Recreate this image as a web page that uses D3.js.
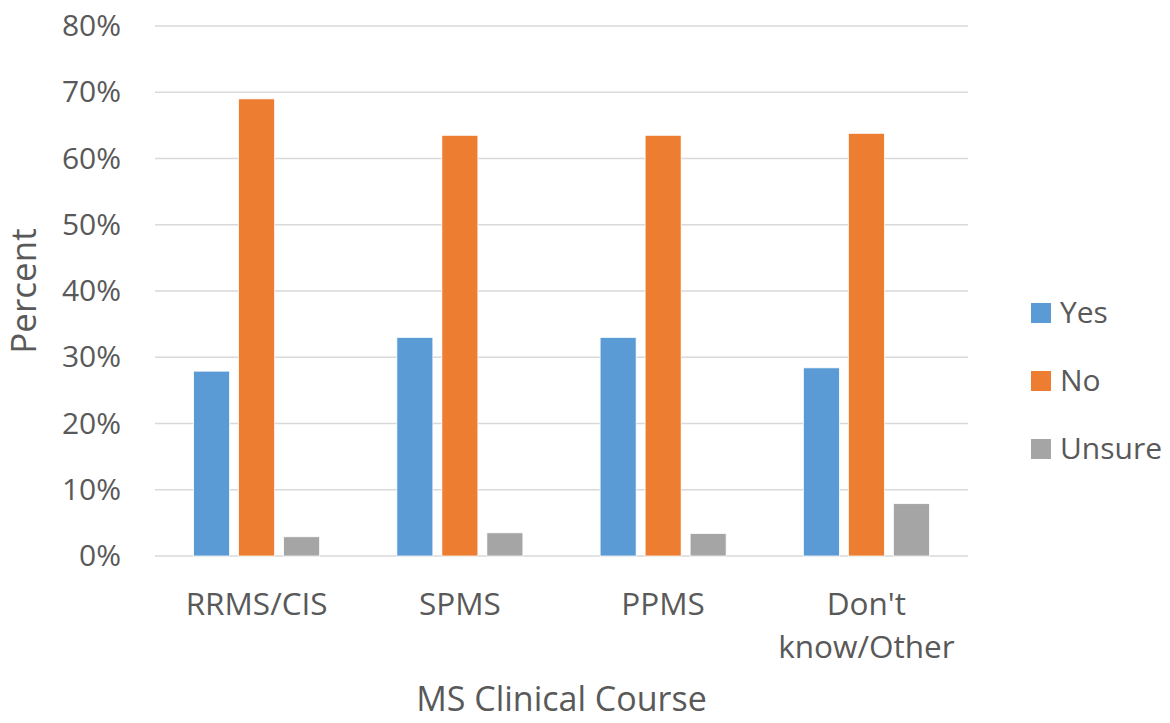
<!DOCTYPE html>
<html>
<head>
<meta charset="utf-8">
<script src="https://cdn.jsdelivr.net/npm/d3@7"></script>
<style>
  html, body { margin: 0; padding: 0; background: #fff; }
  #chart { width: 1170px; height: 723px; }
  text { font-family: "Open Sans", "Noto Sans", sans-serif; fill: #595959; }
</style>
</head>
<body>
<div id="chart"></div>
<script>
// Chart data
const categories = ['RRMS/CIS', 'SPMS', 'PPMS', "Don't\nknow/Other"];
const seriesNames = ['Yes', 'No', 'Unsure'];
const yesValues = [27.9, 33.0, 33.0, 28.4];
const noValues = [69.0, 63.5, 63.5, 63.8];
const unsureValues = [2.9, 3.5, 3.4, 7.9];
const yTicks = [0, 10, 20, 30, 40, 50, 60, 70, 80];
const colors = ['#5B9BD5', '#ED7D31', '#A5A5A5'];

const seriesValues = [yesValues, noValues, unsureValues];

const container = document.getElementById('chart');
const margin = { top: 26, right: 202, bottom: 167, left: 155 };
const width = container.clientWidth - margin.left - margin.right;
const height = container.clientHeight - margin.top - margin.bottom;

const svg = d3.select(container)
    .append('svg')
    .attr('width', container.clientWidth)
    .attr('height', container.clientHeight)
    .append('g')
    .attr('transform', `translate(${margin.left},${margin.top})`);

// Scales
const x0 = d3.scaleBand()
    .domain(categories)
    .range([0, width])
    .paddingInner(0.38)
    .paddingOuter(0.19);

const x1 = d3.scaleBand()
    .domain(seriesNames)
    .range([0, x0.bandwidth()])
    .paddingInner(0.2);

const y = d3.scaleLinear()
    .domain([0, 80])
    .range([height, 0]);

// Grid lines
svg.append('g')
    .attr('class', 'grid-lines')
    .selectAll('line')
    .data(yTicks)
    .enter()
    .append('line')
    .attr('x1', 0)
    .attr('x2', width)
    .attr('y1', d => y(d))
    .attr('y2', d => y(d))
    .attr('stroke', '#D9D9D9')
    .attr('stroke-width', 1.5);

// Y axis labels
const yAxis = svg.append('g')
    .call(d3.axisLeft(y)
        .tickValues(yTicks)
        .tickSize(0)
        .tickPadding(34)
        .tickFormat(d => d + '%'));
yAxis.select('.domain').remove();
yAxis.selectAll('text')
    .style('font-size', '30px')
    .style('font-family', '"Open Sans", sans-serif')
    .attr('fill', '#595959');

// Bars
const groups = svg.append('g')
    .selectAll('g')
    .data(categories)
    .enter()
    .append('g')
    .attr('transform', d => `translate(${x0(d)},0)`);

groups.selectAll('rect')
    .data((d, i) => seriesNames.map((s, j) => ({ series: s, value: seriesValues[j][i], color: colors[j] })))
    .enter()
    .append('rect')
    .attr('x', d => x1(d.series))
    .attr('y', d => y(d.value))
    .attr('width', x1.bandwidth())
    .attr('height', d => height - y(d.value))
    .attr('fill', d => d.color)
    .attr('stroke', '#fff')
    .attr('stroke-width', 0.75);

// Category labels (multi-line)
const catLabels = svg.append('g')
    .selectAll('text')
    .data(categories)
    .enter()
    .append('text')
    .attr('text-anchor', 'middle')
    .attr('x', d => x0(d) + x0.bandwidth() / 2)
    .attr('y', height + 59)
    .style('font-size', '31.5px');

catLabels.each(function(d) {
    const lines = d.split('\n');
    const t = d3.select(this);
    lines.forEach((line, i) => {
        t.append('tspan')
            .attr('x', t.attr('x'))
            .attr('dy', i === 0 ? 0 : 43)
            .text(line);
    });
});

// X axis title
svg.append('text')
    .attr('x', width / 2)
    .attr('y', height + 155)
    .attr('text-anchor', 'middle')
    .style('font-size', '34px')
    .text('MS Clinical Course');

// Y axis title
svg.append('text')
    .attr('transform', 'rotate(-90)')
    .attr('x', -(y(40)))
    .attr('y', -119)
    .attr('text-anchor', 'middle')
    .style('font-size', '35px')
    .text('Percent');

// Legend
const legend = svg.append('g')
    .attr('class', 'chart-legend')
    .attr('transform', `translate(${width + 63}, ${y(40) + 12})`);

seriesNames.forEach((name, i) => {
    const item = legend.append('g')
        .attr('transform', `translate(0, ${i * 68})`);
    item.append('rect')
        .attr('width', 20)
        .attr('height', 20)
        .attr('fill', colors[i]);
    item.append('text')
        .attr('x', 29)
        .attr('y', 20)
        .style('font-size', '30px')
        .text(name);
});
</script>
</body>
</html>
